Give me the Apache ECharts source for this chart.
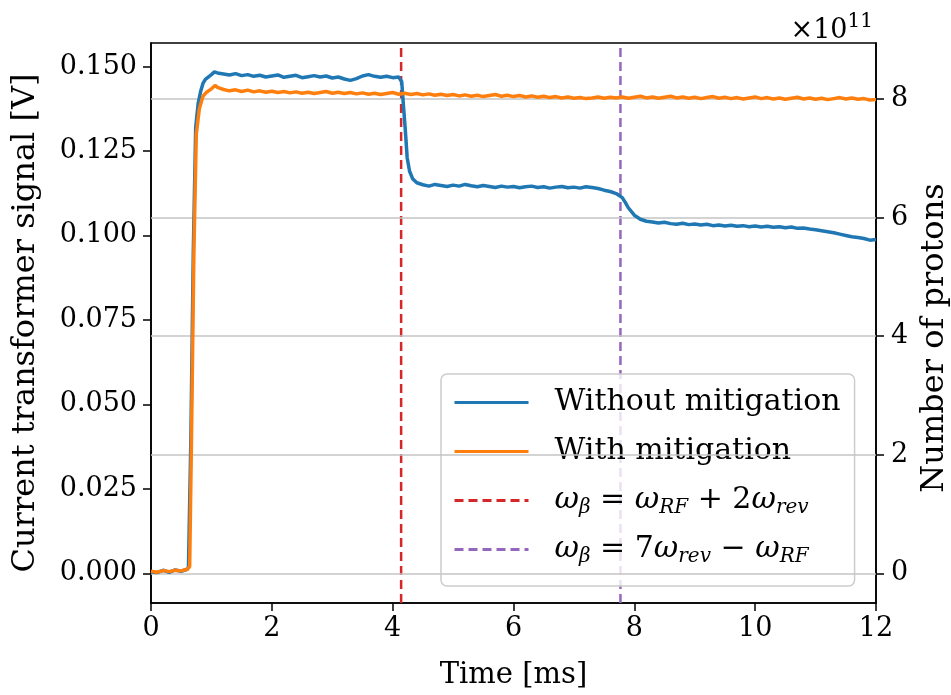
<!DOCTYPE html>
<html>
<head>
<meta charset="utf-8">
<script src="https://cdn.jsdelivr.net/npm/echarts@6/dist/echarts.min.js"></script>
<style>
html,body{margin:0;padding:0;background:#fff;}
#chart{width:951px;height:695px;}
</style>
</head>
<body>
<div id="chart"></div>
<script>
// ---- data ----
const timeBlue = [0.0,0.1,0.2,0.3,0.4,0.5,0.6,0.62,0.66,0.70,0.74,0.78,0.82,0.86,0.9,1.0,1.05,
1.1,1.2,1.3,1.4,1.5,1.6,1.7,1.8,1.9,2.0,2.1,2.2,2.3,2.4,2.5,2.6,2.7,2.8,2.9,3.0,3.1,3.2,3.3,3.4,3.5,3.6,3.7,3.8,3.9,4.0,4.1,
4.15,4.18,4.21,4.24,4.28,4.33,4.4,4.5,4.6,4.7,4.8,4.9,5.0,5.1,5.2,5.3,5.4,5.5,5.6,5.7,5.8,5.9,6.0,6.1,6.2,6.3,6.4,6.5,6.6,6.7,6.8,6.9,7.0,
7.1,7.2,7.3,7.4,7.5,7.6,7.7,7.8,7.85,7.9,8.0,8.1,8.2,8.3,8.4,8.5,8.6,8.7,8.8,8.9,9.0,9.1,9.2,9.3,9.4,9.5,9.6,9.7,9.8,9.9,10.0,
10.1,10.2,10.3,10.4,10.5,10.6,10.7,10.8,10.9,11.0,11.1,11.2,11.3,11.4,11.5,11.6,11.7,11.8,11.9,12.0];
const withoutMitigation = [0.0004,0.0002,0.0009,0.0003,0.0010,0.0006,0.0012,0.0018,0.040,0.095,0.132,0.139,0.1425,0.1450,0.1462,0.1476,0.1484,
0.1481,0.1478,0.1475,0.1479,0.1473,0.1476,0.1471,0.1474,0.1469,0.1472,0.1475,0.1468,0.1471,0.1474,0.1467,0.1470,0.1473,0.1469,0.1472,0.1466,0.1469,0.1463,0.1459,0.1464,0.1472,0.1476,0.1471,0.1468,0.1471,0.1467,0.1469,
0.1455,0.1380,0.1310,0.1230,0.1190,0.1168,0.1156,0.1150,0.1146,0.1151,0.1148,0.1145,0.1149,0.1146,0.1151,0.1147,0.1144,0.1148,0.1145,0.1142,0.1146,0.1143,0.1145,0.1141,0.1144,0.1146,0.1142,0.1144,0.1140,0.1143,0.1145,0.1141,0.1143,
0.1140,0.1144,0.1142,0.1139,0.1134,0.1130,0.1124,0.1112,0.1098,0.1082,0.1060,0.1048,0.1042,0.1040,0.1037,0.1039,0.1035,0.1033,0.1036,0.1032,0.1034,0.1031,0.1033,0.1029,0.1031,0.1028,0.1030,0.1027,0.1029,0.1026,0.1028,
0.1025,0.1027,0.1024,0.1026,0.1023,0.1025,0.1021,0.1022,0.1019,0.1017,0.1014,0.1011,0.1008,0.1004,0.1000,0.0996,0.0994,0.0991,0.0986,0.0988];

const timeOrange = [0.0,0.1,0.2,0.3,0.4,0.5,0.6,0.64,0.67,0.71,0.75,0.80,0.86,0.92,1.0,1.06,
1.1,1.2,1.3,1.4,1.5,1.6,1.7,1.8,1.9,2.0,2.1,2.2,2.3,2.4,2.5,2.6,2.7,2.8,2.9,3.0,3.1,3.2,3.3,3.4,3.5,3.6,3.7,3.8,3.9,4.0,
4.1,4.2,4.3,4.4,4.5,4.6,4.7,4.8,4.9,5.0,5.1,5.2,5.3,5.4,5.5,5.6,5.7,5.8,5.9,6.0,6.1,6.2,6.3,6.4,6.5,6.6,6.7,6.8,6.9,7.0,
7.1,7.2,7.3,7.4,7.5,7.6,7.7,7.8,7.9,8.0,8.1,8.2,8.3,8.4,8.5,8.6,8.7,8.8,8.9,9.0,9.1,9.2,9.3,9.4,9.5,9.6,9.7,9.8,9.9,10.0,
10.1,10.2,10.3,10.4,10.5,10.6,10.7,10.8,10.9,11.0,11.1,11.2,11.3,11.4,11.5,11.6,11.7,11.8,11.9,12.0];
const withMitigation = [0.0006,0.0003,0.0008,0.0005,0.0009,0.0007,0.0012,0.0020,0.040,0.095,0.130,0.1375,0.1412,0.1424,0.1434,0.1444,
0.1438,0.1432,0.1428,0.1431,0.1426,0.1430,0.1425,0.1428,0.1424,0.1427,0.1423,0.1426,0.1422,0.1425,0.1421,0.1424,0.1420,0.1423,0.1426,0.1421,0.1424,0.1420,0.1423,0.1419,0.1422,0.1418,0.1421,0.1417,0.1420,0.1423,
0.1418,0.1421,0.1417,0.1420,0.1416,0.1419,0.1415,0.1418,0.1414,0.1417,0.1413,0.1416,0.1412,0.1415,0.1411,0.1414,0.1417,0.1412,0.1415,0.1411,0.1414,0.1410,0.1413,0.1409,0.1412,0.1408,0.1411,0.1407,0.1410,0.1406,
0.1408,0.1405,0.1407,0.1410,0.1406,0.1409,0.1407,0.1410,0.1406,0.1409,0.1412,0.1407,0.1410,0.1406,0.1409,0.1412,0.1407,0.1410,0.1406,0.1409,0.1405,0.1408,0.1411,0.1406,0.1409,0.1405,0.1408,0.1404,0.1407,0.1410,
0.1405,0.1408,0.1404,0.1407,0.1403,0.1406,0.1409,0.1404,0.1407,0.1403,0.1406,0.1402,0.1405,0.1408,0.1404,0.1407,0.1403,0.1405,0.1401,0.1402];

const resonanceTimes = [4.14, 7.77];       // vertical dashed markers [ms]
const xTicks = [0, 2, 4, 6, 8, 10, 12];
const leftTicks = [0, 0.025, 0.05, 0.075, 0.1, 0.125, 0.15];
const rightTicks = [0, 2, 4, 6, 8];          // ×10^11 protons

// axis extents
const leftMin = -0.00879, leftMax = 0.15696;
const rightMin = -0.501, rightMax = 8.9445;

const FONT = 'DejaVu Serif';
const zip = (xs, ys) => xs.map((x, i) => [x, ys[i]]);

const LF = 30;  // legend font size
const rich = {
  t: {fontFamily: FONT, fontSize: LF, color: '#000'},
  m: {fontFamily: FONT, fontSize: LF, fontStyle: 'italic', color: '#000'},
  s: {fontFamily: FONT, fontSize: 20, fontStyle: 'italic', color: '#000', padding: [15, 0, 0, 0]}
};
const legendLabels = {
  'Without mitigation': '{t|Without mitigation}',
  'With mitigation': '{t|With mitigation}',
  'res1': '{m|ω}{s|β}{t| = }{m|ω}{s|RF}{t| + 2}{m|ω}{s|rev}',
  'res2': '{m|ω}{s|β}{t| = 7}{m|ω}{s|rev}{t| − }{m|ω}{s|RF}'
};

const chart = echarts.init(document.getElementById('chart'), null, {renderer: 'canvas'});
const tickText = {fontFamily: FONT, fontSize: 27, color: '#000'};

chart.setOption({
  animation: false,
  backgroundColor: '#fff',
  title: {
    text: '×10{sup|11}',
    right: 73, top: 7,
    textStyle: {fontFamily: FONT, fontSize: 27, fontWeight: 'normal', color: '#000',
      rich: {sup: {fontFamily: FONT, fontSize: 20, color: '#000', padding: [0, 0, 18, 0]}}}
  },
  grid: {left: 151, right: 75, top: 43, bottom: 92, outerBoundsMode: 'none', containLabel: false,
    show: true, borderColor: '#000', borderWidth: 1.6, backgroundColor: 'transparent'},
  legend: {
    orient: 'vertical',
    left: 441, top: 374,
    padding: [11, 14, 19, 12],
    itemGap: 14,
    itemWidth: 74, itemHeight: 20,
    backgroundColor: 'rgba(255,255,255,0.8)',
    borderColor: '#cccccc', borderWidth: 1.5, borderRadius: 6,
    z: 4,
    itemStyle: {color: 'transparent', borderColor: 'transparent', borderWidth: 0, opacity: 0},
    lineStyle: {width: 3},
    data: ['Without mitigation', 'With mitigation', 'res1', 'res2'],
    formatter: name => legendLabels[name],
    textStyle: {fontFamily: FONT, fontSize: LF, color: '#000', lineHeight: 35, padding: [0, 0, 0, 21], rich: rich}
  },
  xAxis: {
    type: 'value', min: 0, max: 12, interval: 2,
    name: 'Time [ms]', nameLocation: 'middle', nameGap: 58,
    nameTextStyle: {fontFamily: FONT, fontSize: 29, color: '#000'},
    axisLine: {show: true, onZero: false, lineStyle: {color: '#000', width: 1.6}},
    axisTick: {show: true, inside: false, length: 8, lineStyle: {color: '#000', width: 1.5}},
    axisLabel: {...tickText, margin: 12, formatter: v => String(v)},
    splitLine: {show: false}
  },
  yAxis: [{
    type: 'value', min: leftMin, max: leftMax, position: 'left',
    name: 'Current transformer signal [V]', nameLocation: 'middle', nameGap: 109, nameRotate: 90,
    nameTextStyle: {fontFamily: FONT, fontSize: 32, color: '#000'},
    axisLine: {show: true, onZero: false, lineStyle: {color: '#000', width: 1.6}},
    axisTick: {show: true, length: 8, customValues: leftTicks, lineStyle: {color: '#000', width: 1.5}},
    axisLabel: {...tickText, margin: 14, customValues: leftTicks, formatter: v => v.toFixed(3)},
    splitLine: {show: false}
  }, {
    type: 'value', min: rightMin, max: rightMax, position: 'right',
    name: 'Number of protons', nameLocation: 'middle', nameGap: 29, nameRotate: 90,
    nameTextStyle: {fontFamily: FONT, fontSize: 32, color: '#000', padding: [0, 30, 0, 0]},
    axisLine: {show: true, onZero: false, lineStyle: {color: '#000', width: 1.6}},
    axisTick: {show: true, length: 8, customValues: rightTicks, lineStyle: {color: '#000', width: 1.5}},
    axisLabel: {...tickText, margin: 15, customValues: rightTicks, formatter: v => String(v)},
    splitLine: {show: false}
  }],
  series: [
    {
      name: 'grid', type: 'line', yAxisIndex: 1, data: [[0, rightMin - 10]], symbol: 'none', silent: true,
      lineStyle: {opacity: 0}, z: 1,
      markLine: {
        silent: true, symbol: ['none', 'none'], label: {show: false}, z: 5,
        lineStyle: {color: '#c4c4c4', width: 1.5, type: 'solid'},
        emphasis: {disabled: true},
        data: rightTicks.map(v => ({yAxis: v}))
      }
    },
    {
      name: 'Without mitigation', type: 'line', data: zip(timeBlue, withoutMitigation),
      symbol: 'none', lineStyle: {color: '#1f77b4', width: 3.5}, itemStyle: {color: '#1f77b4'}, z: 6
    },
    {
      name: 'With mitigation', type: 'line', data: zip(timeOrange, withMitigation),
      symbol: 'none', lineStyle: {color: '#ff7f0e', width: 3.5}, itemStyle: {color: '#ff7f0e'}, z: 7
    },
    {
      name: 'res1', type: 'line', data: [[resonanceTimes[0], leftMin], [resonanceTimes[0], leftMax]],
      symbol: 'none', lineStyle: {color: '#d62728', width: 2.5, type: [9, 5]}, itemStyle: {color: '#d62728'}, z: 2
    },
    {
      name: 'res2', type: 'line', data: [[resonanceTimes[1], leftMin], [resonanceTimes[1], leftMax]],
      symbol: 'none', lineStyle: {color: '#9467bd', width: 2.5, type: [9, 5]}, itemStyle: {color: '#9467bd'}, z: 2
    }
  ]
});
</script>
</body>
</html>
